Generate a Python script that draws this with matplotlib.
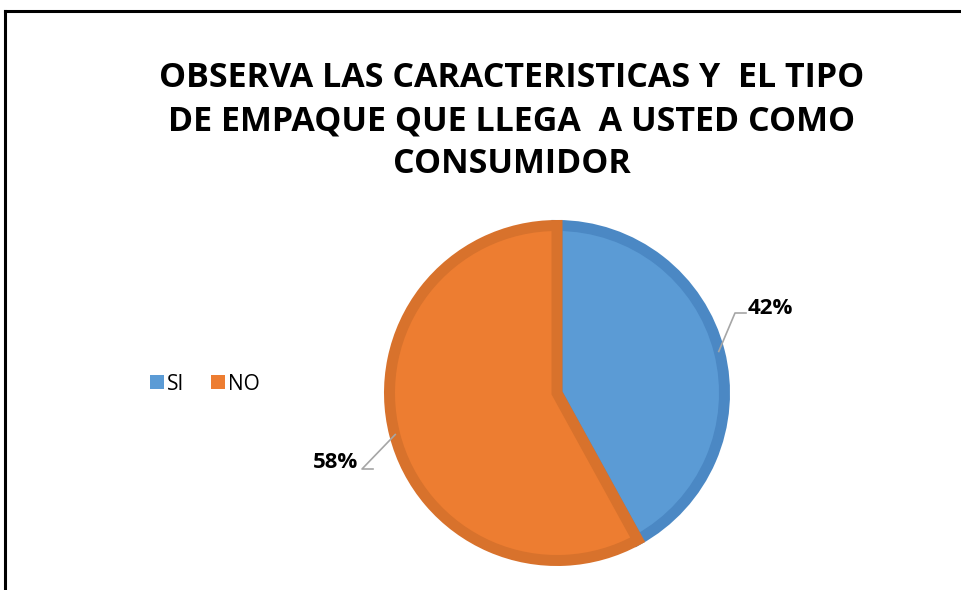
import matplotlib.pyplot as plt
from matplotlib.patches import Patch
from matplotlib.lines import Line2D
import numpy as np

categorias = ["SI", "NO"]
valores = [42, 58]
etiquetas = ["42%", "58%"]
colores = ["#5B9BD5", "#ED7D31"]
bordes = ["#4B88C4", "#D8722C"]
titulo = "OBSERVA LAS CARACTERISTICAS Y  EL TIPO\nDE EMPAQUE QUE LLEGA  A USTED COMO\nCONSUMIDOR"

W, H = 962, 590
fig = plt.figure(figsize=(W / 100, H / 100), dpi=100)
ax = fig.add_axes([0, 0, 1, 1])

# marco del grafico (solo arriba e izquierda se ven)
fig.add_artist(Line2D([5 / W, 1.0], [1 - 11 / H, 1 - 11 / H], color="black", lw=2.2))
fig.add_artist(Line2D([5 / W, 5 / W], [1 - 11 / H, 0], color="black", lw=2.2))

cx, cy, r = 557, H - 393, 173
lw_px = 11
wedges, _ = ax.pie(valores, colors=colores, startangle=90, counterclock=False,
                   center=(cx, cy), radius=r - lw_px / 2, frame=True,
                   wedgeprops=dict(linewidth=lw_px * 0.72, joinstyle="miter"))
for w, b in zip(wedges, bordes):
    w.set_edgecolor(b)
ax.set_xlim(0, W)
ax.set_ylim(0, H)
ax.set_aspect("equal")
ax.axis("off")

# etiquetas con lineas guia
pos_texto = [(770, H - 308), (336, H - 463)]
codo = [(746, H - 313), (373, H - 469)]
fin_linea = [(735, H - 313), (362, H - 469)]
for w, txt, pt, cd, fl in zip(wedges, etiquetas, pos_texto, codo, fin_linea):
    ang = np.deg2rad((w.theta1 + w.theta2) / 2)
    px = cx + (r - 6) * np.cos(ang)
    py = cy + (r - 6) * np.sin(ang)
    ax.plot([px, fl[0], cd[0]], [py, fl[1], cd[1]], color="#A6A6A6", lw=1.2)
    ax.text(pt[0], pt[1], txt, ha="center", va="center", fontsize=16,
            fontweight="bold", family="Open Sans")

fig.text(512 / W, 1 - 121 / H, titulo, ha="center", va="center", fontsize=24.5,
         fontweight="bold", family="Open Sans", linespacing=1.33)

handles = [Patch(facecolor=c, edgecolor="none", label=l) for c, l in zip(colores, categorias)]
fig.legend(handles=handles, loc="center left", bbox_to_anchor=(150 / W, 1 - 384 / H),
           ncol=2, frameon=False, borderpad=0, borderaxespad=0,
           handlelength=0.65, handleheight=0.65, handletextpad=0.15, columnspacing=1.3,
           prop={"family": "Open Sans", "size": 15})

fig.savefig("out.png", dpi=100, facecolor="white")
